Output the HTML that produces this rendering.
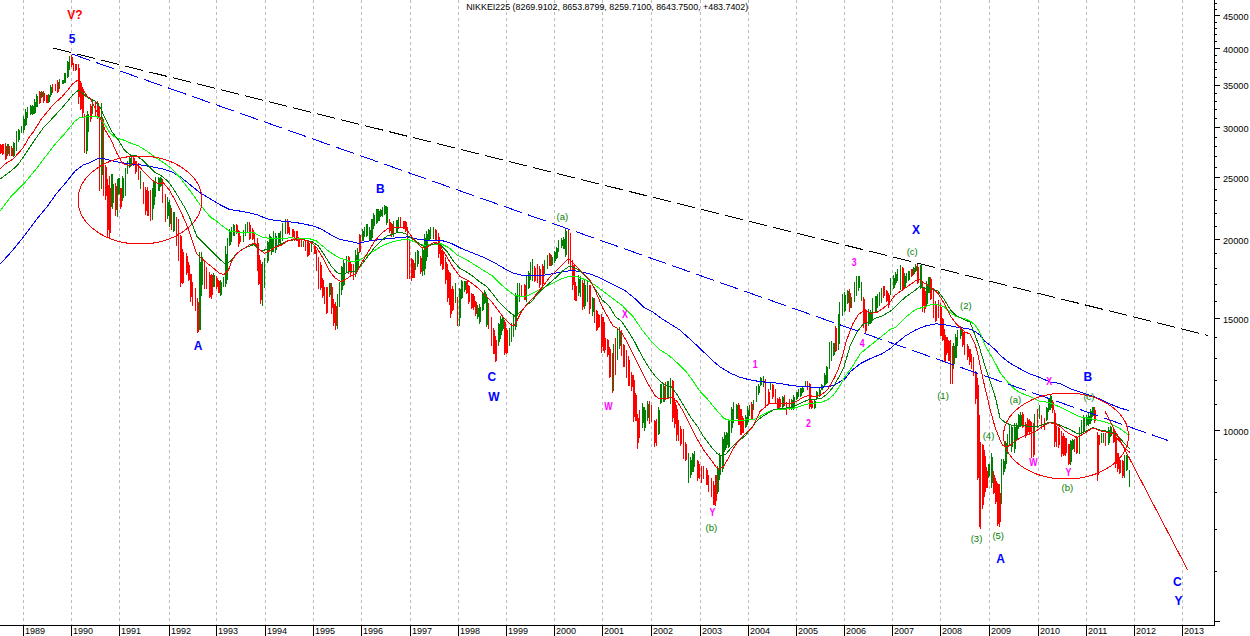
<!DOCTYPE html><html><head><meta charset="utf-8"><title>NIKKEI225</title><style>
html,body{margin:0;padding:0;background:#fff;width:1250px;height:636px;overflow:hidden}
svg{display:block}
.t{font-family:"Liberation Sans",Arial,sans-serif}
</style></head><body>
<svg width="1250" height="636" viewBox="0 0 1250 636">
<rect width="1250" height="636" fill="#fff"/>
<path d="M23.5 0V625M71.5 0V625M119.5 0V625M169.5 0V625M216.5 0V625M265.5 0V625M313.5 0V625M361.5 0V625M410.5 0V625M458.5 0V625M506.5 0V625M554.5 0V625M602.5 0V625M651.5 0V625M700.5 0V625M748.5 0V625M796.5 0V625M844.5 0V625M892.5 0V625M940.5 0V625M989.5 0V625M1038.5 0V625M1086.5 0V625M1134.5 0V625M1182.5 0V625" stroke="#bcbcbc" stroke-width="1" stroke-dasharray="3 3" shape-rendering="crispEdges" fill="none"/>
<path d="M0 144h1v10h-1zM0 145h2v8h-2zM2 144h1v11h-1zM2 144h2v10h-2zM5 143h1v17h-1zM5 146h2v13h-2z" fill="#ff0000" shape-rendering="crispEdges"/>
<path d="M7 144h1v12h-1zM7 144h2v10h-2z" fill="#008000" shape-rendering="crispEdges"/>
<path d="M9 146h1v10h-1zM9 147h1v8h-1zM11 146h1v10h-1zM11 148h2v8h-2z" fill="#ff0000" shape-rendering="crispEdges"/>
<path d="M13 142h1v15h-1zM13 143h2v13h-2zM16 131h1v20h-1zM16 135h1v14h-1zM18 129h1v13h-1zM18 130h2v10h-2zM21 126h1v7h-1zM21 126h1v6h-1zM23 116h1v17h-1zM23 119h2v11h-2zM25 109h1v17h-1zM25 112h2v13h-2zM27 107h1v11h-1zM27 109h1v7h-1zM30 105h1v10h-1zM30 106h2v8h-2zM32 105h1v10h-1zM32 106h2v8h-2zM34 99h1v15h-1zM34 102h2v11h-2zM36 94h1v13h-1zM36 96h2v11h-2z" fill="#008000" shape-rendering="crispEdges"/>
<path d="M39 91h1v13h-1zM39 92h2v11h-2z" fill="#ff0000" shape-rendering="crispEdges"/>
<path d="M41 91h1v7h-1zM41 92h2v5h-2z" fill="#008000" shape-rendering="crispEdges"/>
<path d="M43 91h1v12h-1zM43 93h2v8h-2zM46 95h1v8h-1zM46 95h2v8h-2z" fill="#ff0000" shape-rendering="crispEdges"/>
<path d="M48 94h1v9h-1zM48 95h2v7h-2zM50 85h1v12h-1zM50 87h2v8h-2z" fill="#008000" shape-rendering="crispEdges"/>
<path d="M52 84h1v9h-1zM52 84h1v8h-1zM55 84h1v7h-1zM55 85h1v5h-1zM57 80h1v13h-1zM57 82h2v10h-2z" fill="#ff0000" shape-rendering="crispEdges"/>
<path d="M59 79h1v10h-1zM59 81h1v8h-1zM62 80h1v4h-1zM62 80h2v4h-2zM64 73h1v10h-1zM64 73h2v10h-2zM67 61h1v17h-1zM67 62h2v15h-2zM69 56h1v14h-1zM69 58h1v10h-1z" fill="#008000" shape-rendering="crispEdges"/>
<path d="M71 55h1v12h-1zM71 57h2v8h-2zM73 63h1v8h-1zM73 64h1v7h-1zM75 64h1v7h-1zM75 64h2v6h-2zM78 64h1v40h-1zM78 68h2v29h-2zM80 81h1v29h-1zM80 83h2v26h-2zM82 88h1v30h-1zM82 89h2v24h-2zM84 114h1v39h-1zM84 120h1v32h-1z" fill="#ff0000" shape-rendering="crispEdges"/>
<path d="M86 115h1v39h-1zM86 119h2v32h-2zM87 111h1v22h-1zM87 114h2v18h-2z" fill="#008000" shape-rendering="crispEdges"/>
<path d="M90 104h1v18h-1zM90 106h2v13h-2z" fill="#ff0000" shape-rendering="crispEdges"/>
<path d="M92 101h1v13h-1zM92 103h1v11h-1z" fill="#008000" shape-rendering="crispEdges"/>
<path d="M95 101h1v16h-1zM95 103h1v13h-1zM97 101h1v18h-1zM97 103h2v15h-2zM99 107h1v84h-1zM99 114h1v70h-1z" fill="#ff0000" shape-rendering="crispEdges"/>
<path d="M101 103h1v86h-1zM101 117h2v58h-2z" fill="#008000" shape-rendering="crispEdges"/>
<path d="M103 119h1v77h-1zM103 130h1v64h-1zM105 165h1v35h-1zM105 167h2v29h-2zM107 179h1v59h-1zM107 185h2v45h-2zM109 176h1v63h-1zM109 188h2v45h-2z" fill="#ff0000" shape-rendering="crispEdges"/>
<path d="M111 174h1v33h-1zM111 174h2v32h-2zM112 180h1v29h-1zM112 184h2v19h-2z" fill="#008000" shape-rendering="crispEdges"/>
<path d="M115 183h1v33h-1zM115 186h2v24h-2z" fill="#ff0000" shape-rendering="crispEdges"/>
<path d="M117 179h1v38h-1zM117 180h1v34h-1zM118 178h1v17h-1zM118 178h2v16h-2z" fill="#008000" shape-rendering="crispEdges"/>
<path d="M120 188h1v21h-1zM120 188h2v19h-2z" fill="#ff0000" shape-rendering="crispEdges"/>
<path d="M122 176h1v25h-1zM122 178h2v20h-2zM125 168h1v28h-1zM125 172h1v22h-1zM127 161h1v13h-1zM127 162h1v10h-1zM129 157h1v11h-1zM129 158h2v9h-2zM131 157h1v9h-1zM131 157h1v8h-1z" fill="#008000" shape-rendering="crispEdges"/>
<path d="M133 157h1v9h-1zM133 158h2v7h-2zM135 161h1v13h-1zM135 161h2v11h-2zM138 163h1v17h-1zM138 164h1v14h-1z" fill="#ff0000" shape-rendering="crispEdges"/>
<path d="M140 171h1v18h-1zM140 175h1v12h-1z" fill="#008000" shape-rendering="crispEdges"/>
<path d="M143 182h1v22h-1zM143 184h1v15h-1zM145 187h1v28h-1zM145 190h2v21h-2zM147 187h1v29h-1zM147 191h2v25h-2zM150 190h1v31h-1zM150 195h1v21h-1z" fill="#ff0000" shape-rendering="crispEdges"/>
<path d="M152 188h1v32h-1zM152 194h1v26h-1zM153 182h1v27h-1zM153 182h2v23h-2zM155 177h1v20h-1zM155 178h1v18h-1zM158 177h1v14h-1zM158 178h2v13h-2zM160 177h1v10h-1zM160 178h2v8h-2z" fill="#008000" shape-rendering="crispEdges"/>
<path d="M162 179h1v24h-1zM162 179h1v21h-1zM165 194h1v28h-1zM165 199h1v21h-1z" fill="#ff0000" shape-rendering="crispEdges"/>
<path d="M167 197h1v22h-1zM167 202h2v14h-2zM169 200h1v27h-1zM169 205h2v19h-2z" fill="#008000" shape-rendering="crispEdges"/>
<path d="M171 208h1v22h-1zM171 210h1v17h-1z" fill="#ff0000" shape-rendering="crispEdges"/>
<path d="M173 212h1v20h-1zM173 212h2v19h-2z" fill="#008000" shape-rendering="crispEdges"/>
<path d="M176 217h1v29h-1zM176 222h1v19h-1zM178 219h1v42h-1zM178 223h1v37h-1zM180 235h1v52h-1zM180 236h2v47h-2zM182 249h1v35h-1zM182 252h2v29h-2zM183 254h1v29h-1zM183 257h1v26h-1zM186 253h1v22h-1zM186 256h2v17h-2zM188 262h1v19h-1zM188 265h2v15h-2zM190 274h1v28h-1zM190 274h2v23h-2zM192 282h1v24h-1zM192 282h1v19h-1zM195 288h1v23h-1zM195 289h1v19h-1zM197 298h1v35h-1zM197 302h2v30h-2z" fill="#ff0000" shape-rendering="crispEdges"/>
<path d="M199 252h1v78h-1zM199 262h2v68h-2zM201 252h1v44h-1zM201 256h1v32h-1zM202 257h1v28h-1zM202 261h1v20h-1z" fill="#008000" shape-rendering="crispEdges"/>
<path d="M204 261h1v28h-1zM204 263h1v24h-1zM206 267h1v22h-1zM206 269h1v16h-1zM209 272h1v26h-1zM209 275h2v22h-2zM211 274h1v25h-1zM211 275h2v20h-2z" fill="#ff0000" shape-rendering="crispEdges"/>
<path d="M213 273h1v14h-1zM213 275h2v12h-2z" fill="#008000" shape-rendering="crispEdges"/>
<path d="M216 276h1v13h-1zM216 278h2v9h-2zM218 280h1v13h-1zM218 281h2v12h-2z" fill="#ff0000" shape-rendering="crispEdges"/>
<path d="M220 280h1v16h-1zM220 282h2v13h-2zM223 277h1v10h-1zM223 278h1v8h-1zM225 246h1v41h-1zM225 254h2v30h-2zM227 238h1v42h-1zM227 241h1v37h-1zM229 229h1v17h-1zM229 232h2v13h-2zM231 227h1v15h-1zM231 227h1v14h-1zM233 224h1v12h-1zM233 225h2v11h-2z" fill="#008000" shape-rendering="crispEdges"/>
<path d="M236 224h1v10h-1zM236 225h2v7h-2zM238 230h1v17h-1zM238 231h2v13h-2zM240 236h1v6h-1zM240 236h1v5h-1z" fill="#ff0000" shape-rendering="crispEdges"/>
<path d="M243 230h1v12h-1zM243 231h1v11h-1zM245 224h1v12h-1zM245 225h1v9h-1zM247 222h1v10h-1zM247 223h1v9h-1z" fill="#008000" shape-rendering="crispEdges"/>
<path d="M249 222h1v18h-1zM249 225h2v14h-2zM252 228h1v12h-1zM252 230h2v9h-2zM254 234h1v12h-1zM254 236h1v8h-1zM257 238h1v33h-1zM257 243h2v22h-2zM258 253h1v32h-1zM258 255h2v29h-2zM260 260h1v44h-1zM260 264h2v36h-2z" fill="#ff0000" shape-rendering="crispEdges"/>
<path d="M262 262h1v44h-1zM262 265h1v36h-1zM264 258h1v30h-1zM264 261h1v27h-1zM267 241h1v22h-1zM267 242h2v19h-2zM269 234h1v17h-1zM269 236h2v13h-2zM271 237h1v18h-1zM271 239h2v13h-2zM273 231h1v21h-1zM273 234h1v15h-1zM275 233h1v20h-1zM275 236h2v14h-2zM278 233h1v12h-1zM278 233h2v10h-2zM280 231h1v14h-1zM280 233h1v11h-1zM282 223h1v18h-1zM282 224h1v15h-1zM285 219h1v15h-1zM285 220h1v12h-1z" fill="#008000" shape-rendering="crispEdges"/>
<path d="M287 219h1v15h-1zM287 221h2v12h-2zM289 227h1v8h-1zM289 228h1v5h-1zM292 229h1v8h-1zM292 229h2v8h-2zM294 231h1v10h-1zM294 232h1v7h-1zM296 231h1v10h-1zM296 231h2v10h-2zM298 237h1v10h-1zM298 239h2v8h-2zM301 239h1v8h-1zM301 240h1v6h-1z" fill="#ff0000" shape-rendering="crispEdges"/>
<path d="M303 241h1v6h-1zM303 241h1v6h-1z" fill="#008000" shape-rendering="crispEdges"/>
<path d="M305 241h1v10h-1zM305 242h1v8h-1zM307 241h1v16h-1zM307 242h2v14h-2zM309 243h1v12h-1zM309 245h1v8h-1z" fill="#ff0000" shape-rendering="crispEdges"/>
<path d="M311 243h1v9h-1zM311 244h1v7h-1z" fill="#008000" shape-rendering="crispEdges"/>
<path d="M314 245h1v9h-1zM314 247h2v7h-2zM316 250h1v21h-1zM316 252h1v16h-1zM318 257h1v32h-1zM318 262h1v24h-1zM320 262h1v28h-1zM320 265h2v23h-2zM322 278h1v20h-1zM322 280h2v16h-2zM324 287h1v17h-1zM324 290h1v12h-1zM326 287h1v27h-1zM326 287h2v26h-2z" fill="#ff0000" shape-rendering="crispEdges"/>
<path d="M329 283h1v14h-1zM329 283h2v12h-2z" fill="#008000" shape-rendering="crispEdges"/>
<path d="M331 283h1v31h-1zM331 287h2v21h-2zM333 299h1v27h-1zM333 304h2v19h-2zM335 302h1v28h-1zM335 306h2v20h-2z" fill="#ff0000" shape-rendering="crispEdges"/>
<path d="M337 294h1v35h-1zM337 298h1v25h-1zM339 282h1v25h-1zM339 287h1v20h-1zM341 266h1v29h-1zM341 267h2v23h-2zM343 260h1v26h-1zM343 263h2v22h-2zM346 256h1v17h-1zM346 257h1v16h-1z" fill="#008000" shape-rendering="crispEdges"/>
<path d="M348 256h1v18h-1zM348 257h2v15h-2zM350 262h1v13h-1zM350 264h2v9h-2zM353 264h1v16h-1zM353 265h1v14h-1z" fill="#ff0000" shape-rendering="crispEdges"/>
<path d="M355 250h1v27h-1zM355 255h2v19h-2zM357 248h1v22h-1zM357 252h2v16h-2z" fill="#008000" shape-rendering="crispEdges"/>
<path d="M359 234h1v19h-1zM359 235h2v17h-2z" fill="#ff0000" shape-rendering="crispEdges"/>
<path d="M362 229h1v12h-1zM362 231h2v10h-2zM364 227h1v10h-1zM364 227h1v9h-1zM366 224h1v13h-1zM366 224h2v12h-2zM369 227h1v14h-1zM369 230h2v10h-2zM371 219h1v22h-1zM371 219h2v19h-2zM373 213h1v16h-1zM373 215h2v11h-2zM376 209h1v15h-1zM376 209h2v14h-2zM378 209h1v12h-1zM378 211h2v10h-2zM380 209h1v8h-1zM380 210h2v6h-2zM382 207h1v10h-1zM382 209h1v7h-1zM384 205h1v10h-1zM384 206h2v8h-2zM386 206h1v19h-1zM386 207h2v16h-2z" fill="#008000" shape-rendering="crispEdges"/>
<path d="M389 219h1v14h-1zM389 222h2v9h-2zM391 223h1v14h-1zM391 224h2v11h-2z" fill="#ff0000" shape-rendering="crispEdges"/>
<path d="M393 221h1v16h-1zM393 222h1v13h-1zM396 220h1v13h-1zM396 220h2v12h-2zM398 217h1v12h-1zM398 218h1v11h-1z" fill="#008000" shape-rendering="crispEdges"/>
<path d="M400 217h1v10h-1zM400 218h1v8h-1zM403 221h1v8h-1zM403 221h2v8h-2zM405 221h1v11h-1zM405 222h2v8h-2zM407 227h1v52h-1zM407 233h1v37h-1zM409 239h1v40h-1zM409 241h1v32h-1zM411 258h1v23h-1zM411 259h2v19h-2zM413 260h1v18h-1zM413 263h2v15h-2z" fill="#ff0000" shape-rendering="crispEdges"/>
<path d="M415 252h1v18h-1zM415 255h1v15h-1zM417 250h1v17h-1zM417 251h2v13h-2z" fill="#008000" shape-rendering="crispEdges"/>
<path d="M420 256h1v18h-1zM420 258h2v14h-2z" fill="#ff0000" shape-rendering="crispEdges"/>
<path d="M422 248h1v28h-1zM422 250h2v21h-2zM424 234h1v41h-1zM424 238h2v31h-2zM426 231h1v30h-1zM426 234h2v23h-2zM428 229h1v12h-1zM428 230h2v10h-2zM430 227h1v12h-1zM430 229h1v10h-1zM433 227h1v12h-1zM433 228h1v11h-1z" fill="#008000" shape-rendering="crispEdges"/>
<path d="M435 229h1v12h-1zM435 230h2v10h-2zM438 233h1v25h-1zM438 237h2v17h-2zM440 248h1v18h-1zM440 250h2v14h-2zM442 251h1v19h-1zM442 252h2v17h-2zM445 257h1v27h-1zM445 262h2v18h-2zM447 264h1v38h-1zM447 270h2v28h-2zM449 272h1v33h-1zM449 273h2v25h-2zM450 284h1v34h-1zM450 289h2v25h-2zM452 286h1v25h-1zM452 289h2v21h-2z" fill="#ff0000" shape-rendering="crispEdges"/>
<path d="M455 283h1v20h-1zM455 284h1v18h-1z" fill="#008000" shape-rendering="crispEdges"/>
<path d="M457 297h1v29h-1zM457 301h1v24h-1z" fill="#ff0000" shape-rendering="crispEdges"/>
<path d="M459 288h1v38h-1zM459 289h2v29h-2zM461 280h1v19h-1zM461 281h2v17h-2zM464 281h1v11h-1zM464 281h2v9h-2z" fill="#008000" shape-rendering="crispEdges"/>
<path d="M466 281h1v13h-1zM466 281h2v12h-2zM468 285h1v19h-1zM468 286h2v16h-2zM471 293h1v16h-1zM471 294h2v14h-2zM473 294h1v16h-1zM473 296h2v11h-2zM475 301h1v15h-1zM475 302h2v12h-2z" fill="#ff0000" shape-rendering="crispEdges"/>
<path d="M477 305h1v14h-1zM477 308h2v9h-2zM479 304h1v20h-1zM479 307h2v15h-2zM482 292h1v19h-1zM482 294h2v16h-2zM484 290h1v14h-1zM484 292h2v11h-2zM486 294h1v33h-1zM486 297h2v28h-2z" fill="#008000" shape-rendering="crispEdges"/>
<path d="M488 303h1v26h-1zM488 303h1v23h-1zM491 317h1v29h-1zM491 322h1v23h-1zM493 328h1v26h-1zM493 330h2v24h-2zM495 336h1v26h-1zM495 340h2v21h-2z" fill="#ff0000" shape-rendering="crispEdges"/>
<path d="M498 323h1v23h-1zM498 324h2v18h-2zM500 316h1v23h-1zM500 319h2v16h-2zM502 316h1v15h-1zM502 318h2v11h-2z" fill="#008000" shape-rendering="crispEdges"/>
<path d="M504 320h1v35h-1zM504 322h2v31h-2zM506 328h1v26h-1zM506 330h2v23h-2z" fill="#ff0000" shape-rendering="crispEdges"/>
<path d="M509 328h1v18h-1zM509 328h1v15h-1zM511 323h1v19h-1zM511 324h1v16h-1zM513 314h1v23h-1zM513 315h1v22h-1zM515 293h1v37h-1zM515 295h2v32h-2zM517 283h1v32h-1zM517 287h1v25h-1zM519 283h1v19h-1zM519 285h1v16h-1z" fill="#008000" shape-rendering="crispEdges"/>
<path d="M521 285h1v11h-1zM521 286h1v9h-1zM524 284h1v16h-1zM524 285h2v15h-2z" fill="#ff0000" shape-rendering="crispEdges"/>
<path d="M526 275h1v27h-1zM526 278h1v22h-1zM528 271h1v18h-1zM528 273h2v15h-2zM530 262h1v18h-1zM530 264h1v16h-1zM532 259h1v22h-1zM532 261h1v20h-1z" fill="#008000" shape-rendering="crispEdges"/>
<path d="M534 266h1v16h-1zM534 268h2v13h-2zM537 264h1v19h-1zM537 267h1v13h-1zM539 266h1v22h-1zM539 269h2v16h-2zM542 264h1v24h-1zM542 266h2v18h-2z" fill="#ff0000" shape-rendering="crispEdges"/>
<path d="M544 260h1v14h-1zM544 263h1v10h-1zM547 255h1v14h-1zM547 257h1v11h-1z" fill="#008000" shape-rendering="crispEdges"/>
<path d="M549 253h1v13h-1zM549 254h2v12h-2z" fill="#ff0000" shape-rendering="crispEdges"/>
<path d="M551 255h1v11h-1zM551 257h2v8h-2zM554 251h1v12h-1zM554 252h2v9h-2zM556 247h1v12h-1zM556 248h2v10h-2zM558 240h1v12h-1zM558 241h1v10h-1zM561 238h1v10h-1zM561 240h2v6h-2zM563 237h1v12h-1zM563 239h2v10h-2zM565 229h1v28h-1zM565 231h2v24h-2z" fill="#008000" shape-rendering="crispEdges"/>
<path d="M568 230h1v34h-1zM568 236h1v26h-1zM570 233h1v37h-1zM570 238h1v26h-1zM572 260h1v30h-1zM572 265h2v20h-2zM574 265h1v35h-1zM574 271h1v27h-1zM575 282h1v19h-1zM575 286h2v15h-2z" fill="#ff0000" shape-rendering="crispEdges"/>
<path d="M578 275h1v21h-1zM578 279h2v14h-2zM580 276h1v21h-1zM580 278h1v16h-1z" fill="#008000" shape-rendering="crispEdges"/>
<path d="M582 280h1v30h-1zM582 283h2v24h-2z" fill="#ff0000" shape-rendering="crispEdges"/>
<path d="M584 279h1v30h-1zM584 285h2v21h-2zM587 280h1v22h-1zM587 280h1v19h-1z" fill="#008000" shape-rendering="crispEdges"/>
<path d="M589 285h1v29h-1zM589 285h2v24h-2z" fill="#ff0000" shape-rendering="crispEdges"/>
<path d="M592 297h1v19h-1zM592 298h2v14h-2z" fill="#008000" shape-rendering="crispEdges"/>
<path d="M594 298h1v25h-1zM594 301h1v21h-1zM596 310h1v21h-1zM596 311h2v19h-2zM598 314h1v14h-1zM598 315h2v12h-2zM601 314h1v39h-1zM601 317h2v30h-2zM603 317h1v34h-1zM603 322h2v25h-2zM604 335h1v18h-1zM604 338h2v12h-2zM607 339h1v18h-1zM607 340h2v15h-2zM609 347h1v31h-1zM609 349h2v28h-2zM612 353h1v40h-1zM612 353h1v40h-1z" fill="#ff0000" shape-rendering="crispEdges"/>
<path d="M613 344h1v47h-1zM613 350h1v32h-1z" fill="#008000" shape-rendering="crispEdges"/>
<path d="M615 338h1v37h-1zM615 342h1v26h-1z" fill="#ff0000" shape-rendering="crispEdges"/>
<path d="M617 328h1v32h-1zM617 331h1v27h-1zM619 327h1v22h-1zM619 331h2v15h-2z" fill="#008000" shape-rendering="crispEdges"/>
<path d="M621 330h1v26h-1zM621 330h1v21h-1zM623 344h1v23h-1zM623 345h2v22h-2zM626 350h1v28h-1zM626 354h1v19h-1zM628 356h1v30h-1zM628 360h2v26h-2zM631 372h1v19h-1zM631 375h2v12h-2zM633 375h1v47h-1zM633 380h2v37h-2zM635 393h1v28h-1zM635 395h2v26h-2zM637 414h1v35h-1zM637 418h2v25h-2zM639 410h1v28h-1zM639 413h1v22h-1z" fill="#ff0000" shape-rendering="crispEdges"/>
<path d="M642 403h1v25h-1zM642 407h2v16h-2zM644 407h1v24h-1zM644 410h2v18h-2zM647 401h1v20h-1zM647 404h2v14h-2z" fill="#008000" shape-rendering="crispEdges"/>
<path d="M649 401h1v23h-1zM649 404h1v20h-1zM651 405h1v17h-1zM651 406h1v15h-1zM654 420h1v27h-1zM654 421h2v22h-2zM656 419h1v27h-1zM656 421h1v23h-1z" fill="#ff0000" shape-rendering="crispEdges"/>
<path d="M658 407h1v28h-1zM658 410h2v24h-2zM660 384h1v20h-1zM660 384h2v19h-2zM663 383h1v19h-1zM663 386h2v16h-2z" fill="#008000" shape-rendering="crispEdges"/>
<path d="M665 382h1v18h-1zM665 383h1v17h-1z" fill="#ff0000" shape-rendering="crispEdges"/>
<path d="M667 381h1v17h-1zM667 381h2v17h-2zM670 378h1v26h-1zM670 378h1v23h-1z" fill="#008000" shape-rendering="crispEdges"/>
<path d="M672 380h1v42h-1zM672 381h2v37h-2zM674 398h1v30h-1zM674 402h2v22h-2zM676 405h1v36h-1zM676 409h2v26h-2zM678 420h1v21h-1zM678 424h1v17h-1zM680 426h1v20h-1zM680 429h2v15h-2zM683 429h1v30h-1zM683 429h1v24h-1zM685 442h1v19h-1zM685 444h2v16h-2z" fill="#ff0000" shape-rendering="crispEdges"/>
<path d="M688 453h1v30h-1zM688 458h1v25h-1zM690 457h1v21h-1zM690 460h2v15h-2zM692 453h1v19h-1zM692 454h2v18h-2zM694 451h1v16h-1zM694 452h1v12h-1z" fill="#008000" shape-rendering="crispEdges"/>
<path d="M697 460h1v21h-1zM697 461h2v17h-2zM699 464h1v15h-1zM699 466h1v10h-1zM701 466h1v17h-1zM701 467h1v14h-1zM703 466h1v13h-1zM703 468h1v9h-1zM706 468h1v17h-1zM706 470h2v15h-2zM708 475h1v17h-1zM708 476h1v14h-1zM711 478h1v19h-1zM711 478h1v18h-1zM713 481h1v24h-1zM713 485h2v20h-2zM715 475h1v31h-1zM715 475h2v26h-2z" fill="#ff0000" shape-rendering="crispEdges"/>
<path d="M717 466h1v28h-1zM717 469h2v23h-2zM719 453h1v27h-1zM719 455h2v20h-2zM722 437h1v35h-1zM722 439h2v30h-2zM724 432h1v20h-1zM724 435h2v15h-2zM726 432h1v16h-1zM726 433h2v12h-2zM728 419h1v29h-1zM728 420h2v27h-2zM731 407h1v26h-1zM731 409h2v19h-2zM733 402h1v21h-1zM733 404h1v17h-1zM736 404h1v15h-1zM736 405h2v14h-2z" fill="#008000" shape-rendering="crispEdges"/>
<path d="M738 403h1v22h-1zM738 405h2v20h-2zM740 409h1v26h-1zM740 409h2v26h-2zM742 416h1v17h-1zM742 418h2v15h-2z" fill="#ff0000" shape-rendering="crispEdges"/>
<path d="M745 415h1v13h-1zM745 417h2v10h-2zM747 406h1v19h-1zM747 410h2v12h-2zM749 405h1v11h-1zM749 407h1v8h-1z" fill="#008000" shape-rendering="crispEdges"/>
<path d="M751 402h1v18h-1zM751 404h2v15h-2z" fill="#ff0000" shape-rendering="crispEdges"/>
<path d="M753 400h1v10h-1zM753 401h1v9h-1zM756 386h1v16h-1zM756 389h1v12h-1zM758 384h1v11h-1zM758 386h2v7h-2zM760 377h1v9h-1zM760 378h2v7h-2zM763 376h1v11h-1zM763 377h1v9h-1z" fill="#008000" shape-rendering="crispEdges"/>
<path d="M765 379h1v29h-1zM765 383h1v20h-1zM768 389h1v15h-1zM768 392h2v11h-2z" fill="#ff0000" shape-rendering="crispEdges"/>
<path d="M770 382h1v8h-1zM770 384h1v5h-1z" fill="#008000" shape-rendering="crispEdges"/>
<path d="M772 384h1v15h-1zM772 385h2v12h-2zM775 389h1v15h-1zM775 392h1v10h-1zM777 398h1v12h-1zM777 399h2v10h-2zM779 397h1v12h-1zM779 399h2v8h-2z" fill="#ff0000" shape-rendering="crispEdges"/>
<path d="M782 396h1v13h-1zM782 397h2v10h-2z" fill="#008000" shape-rendering="crispEdges"/>
<path d="M784 395h1v11h-1zM784 396h1v9h-1zM786 402h1v13h-1zM786 403h1v11h-1zM789 399h1v11h-1zM789 400h1v8h-1z" fill="#ff0000" shape-rendering="crispEdges"/>
<path d="M791 399h1v11h-1zM791 400h2v9h-2zM793 395h1v15h-1zM793 397h2v10h-2zM796 392h1v8h-1zM796 392h2v7h-2zM798 389h1v8h-1zM798 390h1v7h-1zM800 388h1v9h-1zM800 388h2v8h-2zM802 387h1v6h-1zM802 388h2v4h-2zM805 381h1v6h-1zM805 381h1v5h-1z" fill="#008000" shape-rendering="crispEdges"/>
<path d="M807 381h1v9h-1zM807 382h1v8h-1zM809 383h1v26h-1zM809 384h2v23h-2zM811 399h1v10h-1zM811 401h2v7h-2z" fill="#ff0000" shape-rendering="crispEdges"/>
<path d="M814 400h1v9h-1zM814 401h2v7h-2zM816 391h1v8h-1zM816 392h2v7h-2zM819 388h1v9h-1zM819 390h2v5h-2zM821 384h1v6h-1zM821 385h2v5h-2zM824 373h1v13h-1zM824 375h2v10h-2zM826 366h1v18h-1zM826 367h2v16h-2zM829 342h1v27h-1zM829 344h1v24h-1zM831 341h1v20h-1zM831 342h1v17h-1zM833 343h1v13h-1zM833 343h2v12h-2z" fill="#008000" shape-rendering="crispEdges"/>
<path d="M835 326h1v26h-1zM835 328h2v23h-2z" fill="#ff0000" shape-rendering="crispEdges"/>
<path d="M838 314h1v36h-1zM838 316h2v28h-2zM839 302h1v22h-1zM839 303h1v18h-1zM842 294h1v22h-1zM842 295h1v20h-1zM844 292h1v20h-1zM844 295h2v16h-2zM847 290h1v14h-1zM847 291h2v12h-2z" fill="#008000" shape-rendering="crispEdges"/>
<path d="M849 289h1v23h-1zM849 293h2v15h-2z" fill="#ff0000" shape-rendering="crispEdges"/>
<path d="M851 297h1v11h-1zM851 298h1v9h-1zM854 282h1v20h-1zM854 285h1v14h-1zM856 276h1v20h-1zM856 278h1v14h-1zM858 276h1v15h-1zM858 276h2v12h-2zM861 282h1v19h-1zM861 282h1v15h-1z" fill="#008000" shape-rendering="crispEdges"/>
<path d="M863 297h1v31h-1zM863 299h2v25h-2zM865 309h1v25h-1zM865 310h2v21h-2z" fill="#ff0000" shape-rendering="crispEdges"/>
<path d="M868 309h1v17h-1zM868 312h2v12h-2zM870 310h1v14h-1zM870 312h2v11h-2zM872 298h1v22h-1zM872 301h1v17h-1zM875 296h1v16h-1zM875 296h2v16h-2zM877 294h1v14h-1zM877 296h1v11h-1zM879 292h1v14h-1zM879 295h1v10h-1zM881 288h1v15h-1zM881 289h1v12h-1z" fill="#008000" shape-rendering="crispEdges"/>
<path d="M883 286h1v12h-1zM883 286h2v10h-2zM886 290h1v12h-1zM886 291h2v10h-2zM888 293h1v15h-1zM888 295h2v10h-2z" fill="#ff0000" shape-rendering="crispEdges"/>
<path d="M890 278h1v17h-1zM890 278h1v15h-1zM893 275h1v14h-1zM893 278h2v10h-2zM895 272h1v13h-1zM895 274h2v9h-2zM897 269h1v12h-1zM897 269h1v11h-1zM900 265h1v25h-1zM900 268h1v20h-1z" fill="#008000" shape-rendering="crispEdges"/>
<path d="M902 267h1v24h-1zM902 268h2v21h-2z" fill="#ff0000" shape-rendering="crispEdges"/>
<path d="M904 273h1v16h-1zM904 276h2v12h-2zM906 273h1v10h-1zM906 274h1v9h-1zM908 271h1v10h-1zM908 271h2v9h-2z" fill="#008000" shape-rendering="crispEdges"/>
<path d="M911 269h1v8h-1zM911 269h2v7h-2z" fill="#ff0000" shape-rendering="crispEdges"/>
<path d="M913 267h1v8h-1zM913 268h2v6h-2zM915 264h1v8h-1zM915 266h2v5h-2z" fill="#008000" shape-rendering="crispEdges"/>
<path d="M917 264h1v20h-1zM917 267h2v16h-2z" fill="#ff0000" shape-rendering="crispEdges"/>
<path d="M920 265h1v24h-1zM920 265h2v23h-2z" fill="#008000" shape-rendering="crispEdges"/>
<path d="M922 281h1v31h-1zM922 287h2v19h-2zM924 287h1v26h-1zM924 291h2v18h-2z" fill="#ff0000" shape-rendering="crispEdges"/>
<path d="M926 281h1v26h-1zM926 284h2v20h-2zM928 277h1v16h-1zM928 277h2v16h-2z" fill="#008000" shape-rendering="crispEdges"/>
<path d="M930 277h1v23h-1zM930 279h2v20h-2zM933 288h1v30h-1zM933 290h1v26h-1zM935 301h1v21h-1zM935 305h2v16h-2zM938 300h1v18h-1zM938 302h1v16h-1zM940 303h1v33h-1zM940 307h2v29h-2zM942 318h1v23h-1zM942 319h2v21h-2zM944 329h1v33h-1zM944 335h2v27h-2zM946 337h1v18h-1zM946 337h2v16h-2zM948 340h1v21h-1zM948 341h2v20h-2zM950 340h1v44h-1zM950 346h1v37h-1zM952 346h1v38h-1zM952 351h1v29h-1z" fill="#ff0000" shape-rendering="crispEdges"/>
<path d="M953 343h1v26h-1zM953 346h2v18h-2zM955 334h1v24h-1zM955 337h2v21h-2zM957 330h1v16h-1zM957 332h1v12h-1zM960 326h1v13h-1zM960 327h2v9h-2z" fill="#008000" shape-rendering="crispEdges"/>
<path d="M962 329h1v18h-1zM962 332h2v13h-2zM964 331h1v24h-1zM964 333h1v21h-1zM967 344h1v16h-1zM967 346h2v11h-2zM969 349h1v16h-1zM969 349h2v13h-2zM971 354h1v15h-1zM971 355h1v12h-1zM973 357h1v19h-1zM973 359h1v14h-1zM975 371h1v33h-1zM975 372h2v27h-2zM977 378h1v102h-1zM977 385h2v93h-2zM979 415h1v112h-1zM979 418h1v106h-1zM980 442h1v87h-1zM980 452h1v60h-1zM982 444h1v65h-1zM982 445h2v60h-2zM984 450h1v47h-1zM984 456h2v36h-2zM986 467h1v21h-1zM986 471h2v17h-2z" fill="#ff0000" shape-rendering="crispEdges"/>
<path d="M988 464h1v14h-1zM988 464h2v12h-2zM991 453h1v35h-1zM991 457h2v26h-2z" fill="#008000" shape-rendering="crispEdges"/>
<path d="M993 471h1v23h-1zM993 475h2v18h-2zM995 478h1v26h-1zM995 481h2v21h-2zM997 483h1v43h-1zM997 484h2v40h-2zM999 484h1v43h-1zM999 493h2v29h-2z" fill="#ff0000" shape-rendering="crispEdges"/>
<path d="M1001 459h1v45h-1zM1001 462h1v36h-1zM1003 459h1v16h-1zM1003 461h2v11h-2zM1005 441h1v28h-1zM1005 443h2v21h-2zM1007 434h1v20h-1zM1007 437h1v14h-1zM1009 425h1v21h-1zM1009 427h1v16h-1zM1011 426h1v26h-1zM1011 427h2v20h-2zM1014 423h1v30h-1zM1014 427h2v22h-2zM1016 423h1v17h-1zM1016 426h2v13h-2zM1018 414h1v15h-1zM1018 415h2v12h-2zM1020 412h1v15h-1zM1020 415h2v11h-2z" fill="#008000" shape-rendering="crispEdges"/>
<path d="M1022 412h1v16h-1zM1022 414h2v13h-2zM1025 422h1v16h-1zM1025 424h2v11h-2zM1027 418h1v16h-1zM1027 420h2v12h-2zM1029 419h1v16h-1zM1029 421h2v11h-2zM1031 422h1v36h-1zM1031 427h1v28h-1zM1033 423h1v34h-1zM1033 425h2v30h-2z" fill="#ff0000" shape-rendering="crispEdges"/>
<path d="M1034 414h1v22h-1zM1034 414h1v22h-1z" fill="#008000" shape-rendering="crispEdges"/>
<path d="M1037 409h1v19h-1zM1037 410h1v17h-1z" fill="#ff0000" shape-rendering="crispEdges"/>
<path d="M1039 405h1v14h-1zM1039 406h1v12h-1z" fill="#008000" shape-rendering="crispEdges"/>
<path d="M1041 415h1v14h-1zM1041 417h1v11h-1zM1044 418h1v12h-1zM1044 419h1v10h-1z" fill="#ff0000" shape-rendering="crispEdges"/>
<path d="M1046 407h1v14h-1zM1046 408h2v12h-2zM1048 399h1v13h-1zM1048 399h2v11h-2zM1050 395h1v15h-1zM1050 396h2v12h-2z" fill="#008000" shape-rendering="crispEdges"/>
<path d="M1052 400h1v13h-1zM1052 402h2v8h-2zM1054 410h1v37h-1zM1054 413h2v29h-2zM1056 426h1v21h-1zM1056 429h1v18h-1zM1058 427h1v21h-1zM1058 428h2v17h-2zM1061 431h1v26h-1zM1061 436h2v18h-2zM1063 433h1v23h-1zM1063 436h2v19h-2zM1065 438h1v18h-1zM1065 438h2v15h-2zM1068 444h1v21h-1zM1068 444h2v20h-2z" fill="#ff0000" shape-rendering="crispEdges"/>
<path d="M1070 440h1v25h-1zM1070 441h2v21h-2zM1072 439h1v11h-1zM1072 440h2v9h-2z" fill="#008000" shape-rendering="crispEdges"/>
<path d="M1074 439h1v13h-1zM1074 441h1v9h-1zM1076 436h1v18h-1zM1076 438h2v15h-2z" fill="#ff0000" shape-rendering="crispEdges"/>
<path d="M1079 427h1v27h-1zM1079 431h1v18h-1zM1081 420h1v16h-1zM1081 421h1v13h-1zM1083 415h1v17h-1zM1083 417h2v15h-2zM1086 415h1v11h-1zM1086 417h2v8h-2zM1088 413h1v13h-1zM1088 416h2v8h-2zM1090 409h1v15h-1zM1090 411h2v10h-2zM1092 407h1v10h-1zM1092 407h2v9h-2z" fill="#008000" shape-rendering="crispEdges"/>
<path d="M1094 407h1v16h-1zM1094 410h2v11h-2zM1097 432h1v49h-1zM1097 442h2v33h-2zM1098 435h1v12h-1zM1098 435h2v10h-2z" fill="#ff0000" shape-rendering="crispEdges"/>
<path d="M1101 433h1v10h-1zM1101 435h1v8h-1zM1103 433h1v10h-1zM1103 434h1v8h-1z" fill="#008000" shape-rendering="crispEdges"/>
<path d="M1105 433h1v13h-1zM1105 434h1v10h-1z" fill="#ff0000" shape-rendering="crispEdges"/>
<path d="M1108 427h1v18h-1zM1108 430h2v13h-2zM1110 426h1v11h-1zM1110 427h2v9h-2z" fill="#008000" shape-rendering="crispEdges"/>
<path d="M1113 427h1v16h-1zM1113 429h2v13h-2zM1115 431h1v37h-1zM1115 437h2v27h-2zM1117 453h1v19h-1zM1117 453h2v16h-2zM1119 457h1v17h-1zM1119 460h2v13h-2zM1122 460h1v18h-1zM1122 461h2v15h-2z" fill="#ff0000" shape-rendering="crispEdges"/>
<path d="M1124 455h1v23h-1zM1124 458h1v18h-1zM1126 455h1v16h-1zM1126 455h2v15h-2zM1129 470h1v17h-1zM1129 473h1v13h-1z" fill="#008000" shape-rendering="crispEdges"/>
<polyline points="0.0,264.2 11.3,251.9 23.6,236.8 37.7,217.9 47.2,206.6 56.6,193.4 63.9,185.0 75.0,171.1 83.0,165.1 90.6,162.3 98.1,158.5 102.8,158.5 110.2,160.4 120.4,162.5 130.7,164.1 140.9,165.0 151.1,166.6 161.3,168.6 171.6,171.7 180.0,176.6 190.2,184.8 200.4,193.0 210.7,199.1 220.9,205.2 229.1,209.3 241.3,211.3 251.6,213.4 257.7,215.0 265.9,218.5 275.4,220.4 285.7,221.5 295.9,222.5 306.1,224.5 314.3,226.2 322.5,229.7 330.7,234.8 338.8,238.9 347.0,240.9 350.0,241.3 358.2,243.4 366.4,241.3 374.5,240.3 382.7,239.3 390.9,238.3 399.1,237.7 407.3,236.9 411.3,237.7 419.5,239.7 427.7,240.3 435.9,240.3 440.0,240.0 451.0,243.2 462.0,248.7 473.0,253.1 484.0,257.5 495.0,263.0 506.1,269.6 512.7,273.0 521.5,275.2 530.3,275.8 541.0,275.6 552.0,273.8 563.0,271.6 571.9,270.5 580.7,271.6 589.5,273.8 598.3,277.1 607.1,281.5 615.9,285.9 624.2,290.0 635.2,298.8 644.0,307.6 652.9,312.0 661.7,318.6 670.5,324.1 679.3,329.6 688.1,337.4 700.0,348.4 711.9,360.0 720.0,366.9 730.0,373.0 740.0,377.3 750.0,379.9 760.0,381.6 770.0,382.5 780.0,383.4 792.2,385.7 804.0,386.6 815.8,387.4 827.5,386.8 834.6,385.0 839.3,382.1 845.2,378.6 850.4,371.6 860.7,363.4 870.9,358.3 881.1,354.2 891.3,348.0 895.0,344.3 905.2,336.1 915.4,330.0 925.7,325.9 935.9,323.8 942.0,324.3 950.2,325.9 958.4,327.5 965.0,328.3 970.0,329.2 975.0,331.3 980.0,335.1 985.0,341.4 990.1,345.2 995.1,349.6 1000.2,355.2 1005.2,359.6 1010.2,363.3 1020.0,368.8 1030.1,373.9 1040.2,377.6 1045.0,379.8 1050.0,382.0 1060.0,383.5 1070.0,388.6 1080.0,391.9 1090.0,395.2 1100.0,399.2 1110.0,404.0 1120.0,408.0 1129.0,410.6" fill="none" stroke="#0000ff" stroke-width="1" stroke-linejoin="round" shape-rendering="crispEdges" />
<polyline points="0.0,211.3 11.3,196.2 25.0,182.4 35.2,170.1 45.4,156.8 55.7,143.5 65.9,132.3 75.0,121.0 80.0,117.5 95.0,116.0 100.0,118.0 105.0,125.0 110.0,133.0 116.0,138.0 123.5,140.0 130.7,143.1 138.9,146.1 147.0,151.2 155.2,157.4 163.4,162.5 171.6,168.6 180.0,177.6 190.2,190.9 200.4,205.2 210.7,217.5 215.2,220.0 221.3,225.1 229.5,231.2 237.7,232.3 245.9,232.3 254.0,232.7 261.1,236.8 269.3,238.4 279.5,238.9 289.8,237.8 300.0,238.4 310.2,238.9 316.3,240.9 322.5,246.0 328.6,251.1 334.8,255.2 340.9,258.3 347.0,260.3 350.0,261.8 358.2,260.8 366.4,255.7 374.5,250.6 382.7,245.4 390.9,242.4 399.1,240.3 407.3,239.3 413.4,241.3 419.5,244.4 425.7,245.4 431.8,244.4 437.9,244.4 440.0,243.2 448.8,247.6 457.6,255.3 466.4,259.7 475.2,265.2 484.0,270.7 492.9,276.3 501.7,285.1 508.3,290.6 514.9,295.6 519.3,296.1 525.9,296.1 530.0,294.7 538.8,290.3 547.6,285.9 556.4,281.5 563.0,278.2 570.7,276.0 578.5,277.1 587.3,280.4 596.1,285.9 604.9,292.5 613.7,299.1 622.5,305.7 624.2,307.6 633.0,316.4 641.9,329.6 650.7,340.7 659.5,349.5 668.3,355.0 677.1,362.7 685.9,371.5 692.5,380.3 700.0,391.3 706.2,397.6 715.1,408.6 723.9,418.5 730.5,420.7 739.3,420.7 748.1,419.6 754.7,419.2 760.0,416.3 768.6,411.6 774.5,409.5 780.4,409.2 786.3,409.0 792.2,408.7 798.0,406.9 804.0,405.1 809.9,403.6 815.8,403.1 821.7,402.2 827.5,399.8 833.4,395.1 839.3,386.8 845.2,376.2 850.4,369.5 860.7,353.2 870.9,345.0 881.1,336.8 891.3,328.6 895.0,327.9 905.2,317.7 915.4,309.5 925.7,306.5 931.8,304.4 937.9,305.0 944.1,306.5 950.2,312.6 956.3,316.7 965.0,318.7 970.0,320.8 975.0,325.0 980.0,332.6 985.0,345.2 990.1,354.0 995.1,362.8 1000.2,372.8 1005.2,379.1 1010.2,385.0 1015.0,389.5 1020.0,392.7 1030.1,396.5 1040.2,401.5 1045.0,401.8 1050.0,402.9 1060.0,407.0 1070.0,412.0 1080.0,416.9 1090.0,418.5 1100.0,420.7 1110.0,423.5 1120.0,428.5 1127.0,434.0 1129.5,435.0" fill="none" stroke="#00ff00" stroke-width="1" stroke-linejoin="round" shape-rendering="crispEdges" />
<polyline points="0.0,179.2 11.3,170.8 17.6,165.0 23.7,156.7 30.8,145.7 38.5,134.6 44.0,126.9 48.5,122.5 55.4,115.0 62.0,107.8 68.6,100.1 73.0,94.6 78.5,90.2 81.9,92.4 86.3,96.8 90.0,99.0 95.0,101.0 100.0,107.0 105.0,118.0 112.0,132.0 118.4,140.0 124.5,150.2 130.7,155.3 136.8,156.0 143.0,160.4 149.1,166.6 155.2,172.7 161.3,175.8 167.5,180.9 173.6,189.1 179.8,199.3 185.9,209.5 190.7,220.0 196.8,236.4 203.0,242.5 211.1,250.7 219.3,258.9 225.4,264.0 229.5,261.9 235.7,254.8 241.8,249.7 247.9,246.6 254.0,244.5 261.1,251.1 267.3,249.1 275.4,247.0 281.6,244.0 287.7,240.9 295.9,239.5 304.1,239.9 312.3,241.9 318.4,246.0 324.5,255.2 330.7,265.4 336.8,272.6 342.9,274.6 349.1,271.6 356.1,272.0 362.3,263.8 368.4,255.7 374.5,247.5 380.7,241.3 386.8,236.2 392.9,234.2 399.1,232.1 405.2,233.6 411.3,238.3 417.5,242.4 423.6,246.5 429.8,245.4 435.9,243.4 440.0,244.3 446.6,250.9 453.2,260.8 459.8,268.5 466.4,271.9 473.0,276.3 479.6,281.8 486.3,286.2 492.9,293.9 499.5,302.7 506.1,309.3 512.7,314.8 516.0,317.0 519.3,312.6 525.9,306.0 532.5,300.5 538.8,292.5 547.6,284.8 556.4,277.1 563.0,270.5 569.6,266.1 576.3,268.3 582.9,273.8 589.5,280.4 596.1,290.3 602.2,300.0 608.8,305.4 615.4,316.4 622.0,321.9 628.6,331.9 635.2,342.9 641.9,356.1 648.5,367.1 655.1,375.9 661.7,382.5 666.0,385.0 671.0,386.6 677.6,395.4 684.2,406.4 690.8,417.4 697.4,426.3 704.0,437.3 710.6,446.1 717.3,453.8 721.7,456.0 726.1,453.8 732.7,446.1 739.3,440.6 745.9,435.1 749.7,430.0 756.8,421.0 762.7,416.3 768.6,412.8 774.5,409.2 780.4,408.7 786.3,408.0 792.2,406.9 798.0,404.5 804.0,401.6 809.9,399.2 815.8,399.2 821.7,398.0 827.5,393.9 833.4,386.8 839.3,376.2 844.0,366.8 850.4,345.0 856.6,332.7 862.7,324.5 868.9,322.5 875.0,318.4 883.2,315.5 891.3,310.5 895.0,306.8 905.2,297.3 915.4,290.1 919.5,286.6 925.7,288.1 931.8,289.1 937.9,291.1 944.1,299.3 950.2,309.5 956.3,315.7 965.0,320.0 970.0,322.0 975.0,335.1 978.8,345.2 982.5,357.7 986.3,370.3 990.1,381.6 993.9,393.0 995.8,399.0 1000.0,418.0 1005.0,422.5 1010.0,424.7 1015.0,425.8 1020.0,425.8 1025.0,425.8 1030.0,426.5 1035.0,427.0 1040.0,425.8 1045.0,423.8 1050.0,422.0 1055.0,423.4 1060.0,425.0 1070.0,429.6 1078.0,434.0 1085.0,431.8 1093.0,427.6 1100.0,430.0 1110.0,431.8 1115.0,433.4 1120.0,438.4 1125.0,443.9 1130.0,448.8" fill="none" stroke="#008000" stroke-width="1" stroke-linejoin="round" shape-rendering="crispEdges" />
<polyline points="0.0,168.9 4.4,164.4 13.2,158.9 23.1,147.9 28.6,138.0 33.0,132.4 38.5,123.6 41.9,118.1 46.3,113.2 53.2,104.5 62.0,96.8 68.6,89.0 71.9,84.6 77.4,80.2 80.7,84.6 84.0,91.3 87.4,96.8 90.0,97.9 95.0,108.0 100.0,117.0 105.0,130.0 111.2,140.0 116.4,152.3 122.5,163.5 128.6,165.6 134.8,162.5 140.9,168.6 147.0,174.8 153.2,180.9 157.3,183.4 163.4,182.9 169.5,190.1 175.7,201.3 181.8,213.6 188.0,228.0 194.1,246.3 196.8,254.0 200.9,257.8 207.0,263.0 213.2,268.0 219.3,273.2 224.0,274.7 228.5,270.1 231.6,260.9 237.7,252.7 243.8,248.6 250.0,244.5 255.0,243.0 259.1,249.0 264.2,253.2 269.3,251.1 275.4,247.0 281.6,245.0 287.7,240.9 295.9,238.9 304.1,239.9 310.2,241.9 316.3,247.0 322.5,257.3 328.6,269.5 334.8,277.7 340.9,281.8 345.0,279.8 351.1,275.7 356.1,274.1 362.3,261.8 368.4,251.6 374.5,241.3 380.7,234.2 386.8,229.1 392.9,228.1 399.1,227.0 405.2,228.1 409.3,233.2 415.4,241.3 421.6,247.5 425.7,248.5 431.8,243.4 435.9,242.4 440.0,246.0 446.6,256.4 453.2,267.4 459.8,276.3 466.4,279.6 473.0,284.0 479.6,289.5 484.0,293.9 490.7,300.5 497.3,309.3 503.9,318.1 510.5,324.7 513.8,325.8 517.1,320.3 521.5,311.5 528.1,302.7 534.7,296.1 540.0,289.5 543.2,285.9 549.8,277.1 556.4,270.5 563.0,263.9 568.5,258.4 571.9,261.7 576.3,266.1 582.9,272.7 589.5,279.3 596.1,292.5 602.7,307.9 608.8,318.6 613.2,326.3 617.6,328.5 622.0,333.0 628.6,345.1 635.2,358.3 641.9,371.5 648.5,384.7 655.1,395.7 659.5,399.0 666.1,398.5 672.1,397.6 677.6,402.0 684.2,413.0 690.8,426.3 697.4,439.5 704.0,450.5 710.6,459.3 716.2,467.0 719.5,469.2 723.9,465.9 728.3,458.2 732.7,449.4 739.3,439.5 745.9,432.9 752.5,427.4 756.0,420.0 760.0,411.6 765.0,406.9 770.0,403.3 775.0,403.1 780.0,403.3 785.0,403.3 790.0,403.3 795.0,402.2 800.0,399.2 805.0,396.3 810.0,395.7 815.8,396.9 821.7,394.5 827.5,389.8 831.0,383.9 834.6,377.4 838.2,369.2 841.1,360.9 843.5,352.0 846.4,340.9 852.5,324.5 858.6,314.3 864.8,310.2 870.9,313.3 877.0,312.3 883.2,308.2 889.3,303.1 895.0,295.2 905.2,288.1 915.4,280.9 919.5,279.9 925.7,284.0 931.8,288.1 937.9,293.2 944.1,303.4 950.2,315.7 956.3,323.8 960.4,328.0 965.0,332.0 970.0,334.0 975.0,343.9 977.5,352.7 980.0,365.3 982.5,376.6 985.0,387.9 987.6,398.0 990.0,409.3 995.0,427.0 1000.0,440.0 1003.0,445.6 1006.0,446.7 1010.0,445.6 1015.0,441.2 1020.0,438.0 1025.0,435.7 1030.0,433.5 1035.0,432.0 1040.0,428.2 1045.0,425.0 1050.0,422.7 1055.0,423.8 1060.0,426.3 1065.0,431.0 1070.0,434.0 1077.0,437.8 1085.0,432.9 1093.0,427.9 1100.0,430.7 1110.0,432.9 1113.0,434.0 1120.0,441.7 1125.0,448.3 1130.0,452.4" fill="none" stroke="#ff0000" stroke-width="1" stroke-linejoin="round" shape-rendering="crispEdges" />
<path d="M53.00 48.00L71.00 52.48M77.00 53.97L95.00 58.45M101.00 59.95L119.00 64.43M125.00 65.92L143.00 70.40M149.00 71.90L167.00 76.38M173.00 77.87L191.00 82.35M197.00 83.84L215.00 88.32M221.00 89.82L239.00 94.30M245.00 95.79L263.00 100.27M269.00 101.77L287.00 106.25M293.00 107.74L311.00 112.22M317.00 113.71L335.00 118.19M341.00 119.69L359.00 124.17M365.00 125.66L383.00 130.14M389.00 131.64L407.00 136.12M413.00 137.61L431.00 142.09M437.00 143.58L455.00 148.06M461.00 149.56L479.00 154.04M485.00 155.53L503.00 160.01M509.00 161.51L527.00 165.99M533.00 167.48L551.00 171.96M557.00 173.45L575.00 177.94M581.00 179.43L599.00 183.91M605.00 185.40L623.00 189.88M629.00 191.38L647.00 195.86M653.00 197.35L671.00 201.83M677.00 203.32L695.00 207.81M701.00 209.30L719.00 213.78M725.00 215.27L743.00 219.75M749.00 221.25L767.00 225.73M773.00 227.22L791.00 231.70M797.00 233.19L815.00 237.68M821.00 239.17L839.00 243.65M845.00 245.14L863.00 249.62M869.00 251.12L887.00 255.60M893.00 257.09L911.00 261.57M917.00 263.06L935.00 267.55M941.00 269.04L959.00 273.52M965.00 275.01L983.00 279.49M989.00 280.99L1007.00 285.47M1013.00 286.96L1031.00 291.44M1037.00 292.94L1055.00 297.42M1061.00 298.91L1079.00 303.39M1085.00 304.88L1103.00 309.36M1109.00 310.86L1127.00 315.34M1133.00 316.83L1151.00 321.31M1157.00 322.81L1175.00 327.29M1181.00 328.78L1199.00 333.26M1205.00 334.75L1208.00 335.50" stroke="#000" stroke-width="1" fill="none" shape-rendering="crispEdges"/>
<path d="M72.00 54.00L90.00 60.35M96.00 62.46L114.00 68.81M120.00 70.93L138.00 77.27M144.00 79.39L162.00 85.74M168.00 87.85L186.00 94.20M192.00 96.32L210.00 102.67M216.00 104.78L234.00 111.13M240.00 113.24L258.00 119.59M264.00 121.71L282.00 128.06M288.00 130.17L306.00 136.52M312.00 138.64L330.00 144.98M336.00 147.10L354.00 153.45M360.00 155.56L378.00 161.91M384.00 164.03L402.00 170.37M408.00 172.49L426.00 178.84M432.00 180.95L450.00 187.30M456.00 189.42L474.00 195.76M480.00 197.88L498.00 204.23M504.00 206.34L522.00 212.69M528.00 214.81L546.00 221.15M552.00 223.27L570.00 229.62M576.00 231.73L594.00 238.08M600.00 240.20L618.00 246.54M624.00 248.66L642.00 255.01M648.00 257.12L666.00 263.47M672.00 265.59L690.00 271.94M696.00 274.05L714.00 280.40M720.00 282.51L738.00 288.86M744.00 290.98L762.00 297.33M768.00 299.44L786.00 305.79M792.00 307.91L810.00 314.25M816.00 316.37L834.00 322.72M840.00 324.83L858.00 331.18M864.00 333.30L882.00 339.64M888.00 341.76L906.00 348.11M912.00 350.22L930.00 356.57M936.00 358.69L954.00 365.03M960.00 367.15L978.00 373.50M984.00 375.61L1002.00 381.96M1008.00 384.08L1026.00 390.42M1032.00 392.54L1050.00 398.89M1056.00 401.00L1074.00 407.35M1080.00 409.47L1098.00 415.81M1104.00 417.93L1122.00 424.28M1128.00 426.39L1146.00 432.74M1152.00 434.86L1168.00 440.50" stroke="#0000ff" stroke-width="1" fill="none" shape-rendering="crispEdges"/>
<ellipse cx="140" cy="200" rx="62" ry="44" fill="none" stroke="#ff0000" stroke-width="1" shape-rendering="crispEdges"/>
<ellipse cx="1066" cy="436" rx="62.5" ry="43" fill="none" stroke="#ff0000" stroke-width="1" shape-rendering="crispEdges"/>
<line x1="1105" y1="411.5" x2="1187.7" y2="570.2" stroke="#ff0000" stroke-width="1" shape-rendering="crispEdges"/>
<path d="M0 625.5H1214.5V0" stroke="#000" stroke-width="1" fill="none" shape-rendering="crispEdges"/>
<path d="M23.5 625V636M71.5 625V636M119.5 625V636M169.5 625V636M216.5 625V636M265.5 625V636M313.5 625V636M361.5 625V636M410.5 625V636M458.5 625V636M506.5 625V636M554.5 625V636M602.5 625V636M651.5 625V636M700.5 625V636M748.5 625V636M796.5 625V636M844.5 625V636M892.5 625V636M940.5 625V636M989.5 625V636M1038.5 625V636M1086.5 625V636M1134.5 625V636M1182.5 625V636M1214 621.5h6M1214 571.5h3M1214 529.5h3M1214 492.5h3M1214 459.5h3M1214 430.5h6M1214 404.5h3M1214 380.5h3M1214 358.5h3M1214 337.5h3M1214 318.5h6M1214 301.5h3M1214 284.5h3M1214 268.5h3M1214 253.5h3M1214 239.5h6M1214 226.5h3M1214 213.5h3M1214 200.5h3M1214 189.5h3M1214 177.5h6M1214 167.5h3M1214 156.5h3M1214 146.5h3M1214 137.5h3M1214 127.5h6M1214 118.5h3M1214 109.5h3M1214 101.5h3M1214 93.5h3M1214 85.5h6M1214 77.5h3M1214 69.5h3M1214 62.5h3M1214 55.5h3M1214 48.5h6M1214 41.5h3M1214 34.5h3M1214 28.5h3M1214 22.5h3M1214 15.5h6M1214 9.5h3M1214 3.5h3" stroke="#000" stroke-width="1" fill="none" shape-rendering="crispEdges"/>
<g class="t" font-size="9" fill="#000"><text x="25" y="634.3">1989</text><text x="73" y="634.3">1990</text><text x="121" y="634.3">1991</text><text x="171" y="634.3">1992</text><text x="218" y="634.3">1993</text><text x="267" y="634.3">1994</text><text x="315" y="634.3">1995</text><text x="363" y="634.3">1996</text><text x="412" y="634.3">1997</text><text x="460" y="634.3">1998</text><text x="508" y="634.3">1999</text><text x="556" y="634.3">2000</text><text x="604" y="634.3">2001</text><text x="653" y="634.3">2002</text><text x="702" y="634.3">2003</text><text x="750" y="634.3">2004</text><text x="798" y="634.3">2005</text><text x="846" y="634.3">2006</text><text x="894" y="634.3">2007</text><text x="942" y="634.3">2008</text><text x="991" y="634.3">2009</text><text x="1040" y="634.3">2010</text><text x="1088" y="634.3">2011</text><text x="1136" y="634.3">2012</text><text x="1184" y="634.3">2013</text></g>
<g class="t" font-size="9.2" fill="#000"><text x="1223" y="434.8">10000</text><text x="1223" y="323.0">15000</text><text x="1223" y="243.6">20000</text><text x="1223" y="182.1">25000</text><text x="1223" y="131.8">30000</text><text x="1223" y="89.3">35000</text><text x="1223" y="52.5">40000</text><text x="1223" y="20.0">45000</text></g>
<text class="t" x="466.2" y="10" font-size="9.6" fill="#000" textLength="282" lengthAdjust="spacingAndGlyphs">NIKKEI225 (8269.9102, 8653.8799, 8259.7100, 8643.7500, +483.7402)</text>
<text class="t" x="75.0" y="18.8" fill="#ff0000" font-size="12" font-weight="bold" text-anchor="middle">V?</text>
<text class="t" x="72.0" y="42.8" fill="#0000ff" font-size="12" font-weight="bold" text-anchor="middle">5</text>
<text class="t" x="198.0" y="349.6" fill="#0000ff" font-size="12" font-weight="bold" text-anchor="middle">A</text>
<text class="t" x="380.4" y="192.6" fill="#0000ff" font-size="12" font-weight="bold" text-anchor="middle">B</text>
<text class="t" x="491.8" y="380.8" fill="#0000ff" font-size="12" font-weight="bold" text-anchor="middle">C</text>
<text class="t" x="494.0" y="400.7" fill="#0000ff" font-size="12" font-weight="bold" text-anchor="middle">W</text>
<text class="t" x="916.0" y="234.3" fill="#0000ff" font-size="12" font-weight="bold" text-anchor="middle">X</text>
<text class="t" x="1000.7" y="562.9" fill="#0000ff" font-size="12" font-weight="bold" text-anchor="middle">A</text>
<text class="t" x="1087.8" y="380.8" fill="#0000ff" font-size="12" font-weight="bold" text-anchor="middle">B</text>
<text class="t" x="1177.4" y="586.0" fill="#0000ff" font-size="12" font-weight="bold" text-anchor="middle">C</text>
<text class="t" x="1178.6" y="605.3" fill="#0000ff" font-size="12" font-weight="bold" text-anchor="middle">Y</text>
<text class="t" transform="translate(625.0 318.1) scale(0.88 1)" fill="#ff00ff" font-size="10" font-weight="bold" text-anchor="middle">X</text>
<text class="t" transform="translate(608.3 409.7) scale(0.88 1)" fill="#ff00ff" font-size="10" font-weight="bold" text-anchor="middle">W</text>
<text class="t" transform="translate(712.5 516.1) scale(0.88 1)" fill="#ff00ff" font-size="10" font-weight="bold" text-anchor="middle">Y</text>
<text class="t" transform="translate(755.3 367.5) scale(0.88 1)" fill="#ff00ff" font-size="10" font-weight="bold" text-anchor="middle">1</text>
<text class="t" transform="translate(808.5 427.1) scale(0.88 1)" fill="#ff00ff" font-size="10" font-weight="bold" text-anchor="middle">2</text>
<text class="t" transform="translate(854.1 266.4) scale(0.88 1)" fill="#ff00ff" font-size="10" font-weight="bold" text-anchor="middle">3</text>
<text class="t" transform="translate(862.3 346.6) scale(0.88 1)" fill="#ff00ff" font-size="10" font-weight="bold" text-anchor="middle">4</text>
<text class="t" transform="translate(1049.3 384.6) scale(0.88 1)" fill="#ff00ff" font-size="10" font-weight="bold" text-anchor="middle">X</text>
<text class="t" transform="translate(1033.4 465.6) scale(0.88 1)" fill="#ff00ff" font-size="10" font-weight="bold" text-anchor="middle">W</text>
<text class="t" transform="translate(1068.4 475.6) scale(0.88 1)" fill="#ff00ff" font-size="10" font-weight="bold" text-anchor="middle">Y</text>
<text class="t" x="562.4" y="219.9" fill="#008000" font-size="9.5" font-weight="normal" text-anchor="middle">(a)</text>
<text class="t" x="711.3" y="530.9" fill="#008000" font-size="9.5" font-weight="normal" text-anchor="middle">(b)</text>
<text class="t" x="912.2" y="254.7" fill="#008000" font-size="9.5" font-weight="normal" text-anchor="middle">(c)</text>
<text class="t" x="965.8" y="309.4" fill="#008000" font-size="9.5" font-weight="normal" text-anchor="middle">(2)</text>
<text class="t" x="943.0" y="398.9" fill="#008000" font-size="9.5" font-weight="normal" text-anchor="middle">(1)</text>
<text class="t" x="976.5" y="541.5" fill="#008000" font-size="9.5" font-weight="normal" text-anchor="middle">(3)</text>
<text class="t" x="988.5" y="438.7" fill="#008000" font-size="9.5" font-weight="normal" text-anchor="middle">(4)</text>
<text class="t" x="998.2" y="538.8" fill="#008000" font-size="9.5" font-weight="normal" text-anchor="middle">(5)</text>
<text class="t" x="1015.3" y="403.4" fill="#008000" font-size="9.5" font-weight="normal" text-anchor="middle">(a)</text>
<text class="t" x="1089.0" y="400.2" fill="#008000" font-size="9.5" font-weight="normal" text-anchor="middle">(c)</text>
<text class="t" x="1067.3" y="491.1" fill="#008000" font-size="9.5" font-weight="normal" text-anchor="middle">(b)</text>
</svg></body></html>
